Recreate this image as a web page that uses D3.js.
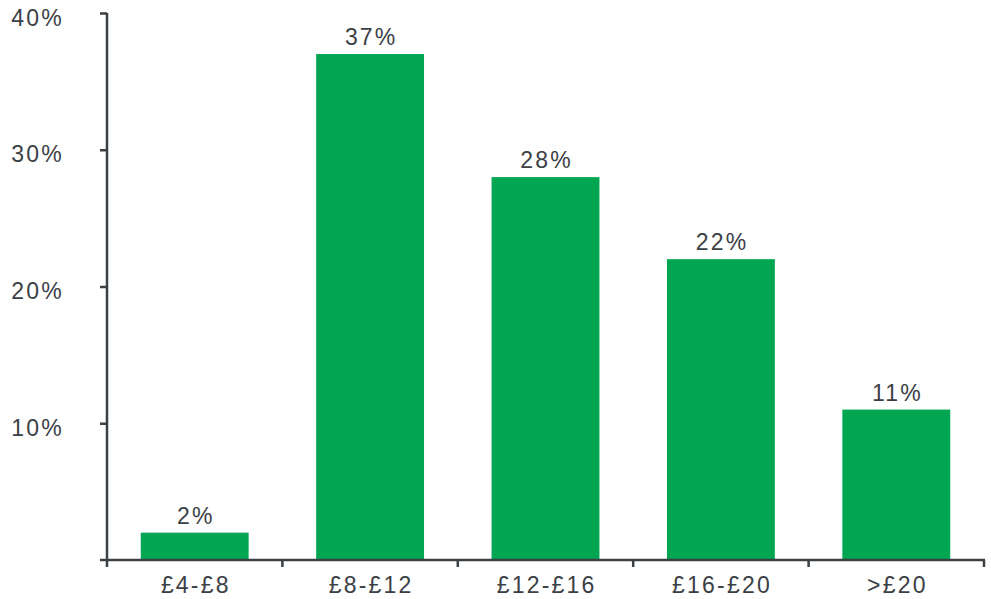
<!DOCTYPE html>
<html><head><meta charset="utf-8">
<script src="https://cdn.jsdelivr.net/npm/d3@7"></script>
<style>
html,body{margin:0;padding:0;background:#fff;}
text{font-family:"Liberation Sans",Arial,sans-serif;fill:#3b4045;}
</style></head>
<body><svg id="chart" width="991" height="599"></svg>
<script>
const categories = ["£4-£8","£8-£12","£12-£16","£16-£20",">£20"];
const values = [2,37,28,22,11];
const yTicks = [10,20,30,40];
const yTickLabels = ["10%","20%","30%","40%"];

(function(){
const svg = d3.select("#chart");
const mL = 107, mR = 984, mT = 13, mB = 560;
const x = d3.scaleBand().domain(categories).range([mL,mR]).paddingInner(0.385).paddingOuter(0.1925);
const y = d3.scaleLinear().domain([0,40]).range([mB,mT]);
const axisColor = "#3b4045";
const fs = 23, ls = 2.2;

svg.selectAll("rect.bar").data(values).join("rect")
  .attr("class","bar")
  .attr("x",(d,i)=>x(categories[i]))
  .attr("width",x.bandwidth())
  .attr("y",d=>y(d))
  .attr("height",d=>mB-y(d))
  .attr("fill","#00a651");

svg.selectAll("text.val").data(values).join("text")
  .attr("class","val")
  .attr("x",(d,i)=>x(categories[i])+x.bandwidth()/2+ls/2)
  .attr("y",d=>y(d)-9)
  .attr("text-anchor","middle")
  .style("font-size",fs+"px").style("letter-spacing",ls+"px")
  .text(d=>d+"%");

// y axis
const yAxis = d3.axisLeft(y).tickValues(yTicks).tickSize(7).tickFormat((d,i)=>yTickLabels[i]);
const gy = svg.append("g").attr("transform",`translate(${mL},0)`).call(yAxis);
gy.select(".domain").remove();
gy.selectAll(".tick line").attr("stroke",axisColor).attr("stroke-width",2.5);
gy.selectAll(".tick text").attr("x",-43).attr("dy","12px").style("font-size",fs+"px").style("letter-spacing",ls+"px").attr("fill",axisColor).attr("font-family",null);
svg.append("line").attr("x1",mL).attr("x2",mL).attr("y1",mT).attr("y2",mB).attr("stroke",axisColor).attr("stroke-width",2.5);

// x axis
const gx = svg.append("g").attr("transform",`translate(0,${mB})`);
gx.append("line").attr("x1",mL-7).attr("x2",mR+1).attr("stroke",axisColor).attr("stroke-width",2.5);
const edges = categories.map(c=>x(c)-(x.step()-x.bandwidth())/2).concat([mR]);
gx.selectAll("line.tk").data(edges).join("line").attr("class","tk")
  .attr("x1",d=>d).attr("x2",d=>d).attr("y1",0).attr("y2",7)
  .attr("stroke",axisColor).attr("stroke-width",2.5);
gx.selectAll("text.cat").data(categories).join("text").attr("class","cat")
  .attr("x",c=>x(c)+x.bandwidth()/2+ls/2).attr("y",33)
  .attr("text-anchor","middle")
  .style("font-size",fs+"px").style("letter-spacing",ls+"px")
  .text(c=>c);
})();
</script></body></html>
